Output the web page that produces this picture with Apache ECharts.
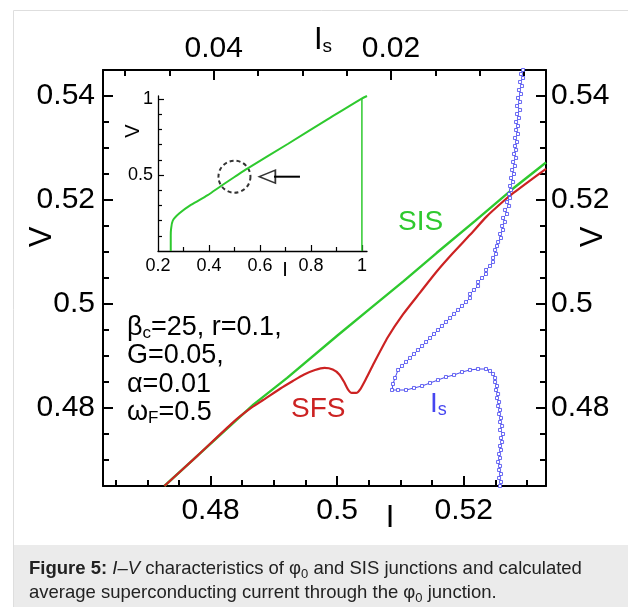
<!DOCTYPE html>
<html>
<head>
<meta charset="utf-8">
<title>I-V characteristics</title>
<script src="https://cdn.jsdelivr.net/npm/echarts@6/dist/echarts.min.js"></script>
<style>
  html, body { margin: 0; padding: 0; background: #fff; }
  #chart { width: 628px; height: 607px; }
</style>
</head>
<body>
<div id="chart"></div>
<script>
// ---- tick values ----
const majorI = [0.48, 0.5, 0.52];
const minorI = [0.465, 0.47, 0.475, 0.485, 0.49, 0.495, 0.505, 0.51, 0.515, 0.525, 0.53];
const majorIs = [0.04, 0.02];
const minorIs = [0.005, 0.01, 0.015, 0.025, 0.03, 0.035, 0.045, 0.05];
const majorV = [0.48, 0.5, 0.52, 0.54];
const minorV = [0.47, 0.475, 0.485, 0.49, 0.495, 0.505, 0.51, 0.515, 0.525, 0.53, 0.535];
const insetITicks = [0.4, 0.6, 0.8, 1];
const insetILabels = [0.2, 0.4, 0.6, 0.8, 1];
const insetIMinor = [0.3, 0.5, 0.7, 0.9];
const insetVTicks = [0.5, 1];
const insetVMinor = [0.1, 0.2, 0.3, 0.4, 0.6, 0.7, 0.8, 0.9];

// ---- curves, [I, V] ----
const sisCurve = [
  [0.4727, 0.465], [0.4779, 0.4708], [0.4868, 0.4807], [0.4921, 0.4858], [0.5, 0.4939],
  [0.5053, 0.4992], [0.5105, 0.5044], [0.5157, 0.5098], [0.5218, 0.516], [0.5278, 0.5222],
  [0.533, 0.5272]
];
const sfsCurve = [
  [0.4727, 0.465], [0.4779, 0.4708], [0.4835, 0.4772], [0.4865, 0.4801], [0.4884, 0.4816],
  [0.4911, 0.4838], [0.493, 0.4852], [0.4947, 0.4864], [0.4965, 0.4873], [0.498, 0.4877],
  [0.4993, 0.4874], [0.5003, 0.4865], [0.5011, 0.485], [0.5017, 0.4836], [0.5023, 0.4829],
  [0.503, 0.4829], [0.5037, 0.4837], [0.5046, 0.4857], [0.5058, 0.4886], [0.508, 0.4936],
  [0.5104, 0.498], [0.5131, 0.5022], [0.5157, 0.5062], [0.5183, 0.5098], [0.521, 0.5133],
  [0.5236, 0.5168], [0.5263, 0.5198], [0.5278, 0.5213], [0.5302, 0.5235], [0.533, 0.526]
];
// average superconducting current, [Is, V]
const isCurve = [
  [0.00509, 0.545], [0.00532, 0.54423], [0.00509, 0.54346], [0.00543, 0.54269], [0.00521, 0.54192],
  [0.00555, 0.54115], [0.00532, 0.54038], [0.00566, 0.53962], [0.00543, 0.53885], [0.00577, 0.53808],
  [0.00543, 0.53731], [0.00577, 0.53654], [0.00555, 0.53577], [0.00588, 0.535], [0.00566, 0.53423],
  [0.00588, 0.53346], [0.00566, 0.53269], [0.006, 0.53192], [0.00577, 0.53115], [0.006, 0.53038],
  [0.00588, 0.52962], [0.00611, 0.52885], [0.00588, 0.52808], [0.00622, 0.52731], [0.006, 0.52654],
  [0.00633, 0.52577], [0.00611, 0.525], [0.00645, 0.52423], [0.00622, 0.52346], [0.00656, 0.52269],
  [0.00645, 0.52192], [0.00667, 0.52115], [0.00656, 0.52038], [0.0069, 0.51962], [0.00667, 0.51885],
  [0.00713, 0.51808], [0.0069, 0.51731], [0.00735, 0.51654], [0.00713, 0.51577], [0.00746, 0.515],
  [0.00735, 0.51423], [0.00769, 0.51346], [0.00758, 0.51269], [0.00791, 0.51192], [0.00803, 0.51115],
  [0.00825, 0.51038], [0.00814, 0.50962], [0.00848, 0.50885], [0.00848, 0.50808], [0.00882, 0.50731],
  [0.00927, 0.50654], [0.00927, 0.50577], [0.00972, 0.505], [0.01017, 0.50423], [0.01017, 0.50346],
  [0.01063, 0.50269], [0.01108, 0.50192], [0.01108, 0.50115], [0.01153, 0.50038], [0.01198, 0.49962],
  [0.01243, 0.49885], [0.01288, 0.49808], [0.01333, 0.49731], [0.01379, 0.49654], [0.01424, 0.49577],
  [0.01469, 0.495], [0.01514, 0.49423], [0.01559, 0.49346], [0.01604, 0.49269], [0.01649, 0.49192],
  [0.01695, 0.49115], [0.0174, 0.49038], [0.01785, 0.48962], [0.0183, 0.48885], [0.01875, 0.48808],
  [0.0192, 0.48731], [0.01954, 0.48577], [0.01977, 0.48462], [0.01988, 0.48346], [0.0192, 0.48346],
  [0.0183, 0.48346], [0.0174, 0.48385], [0.01649, 0.48423], [0.01559, 0.48481], [0.01469, 0.48538],
  [0.01379, 0.48596], [0.01288, 0.48635], [0.01198, 0.48692], [0.01108, 0.48731], [0.01017, 0.4875],
  [0.00927, 0.4875], [0.00882, 0.48712], [0.00848, 0.48654], [0.00825, 0.48577], [0.00825, 0.485],
  [0.00803, 0.48423], [0.00814, 0.48346], [0.00791, 0.48269], [0.00803, 0.48192], [0.0078, 0.48115],
  [0.00791, 0.48038], [0.00769, 0.47962], [0.0078, 0.47885], [0.00758, 0.47808], [0.00769, 0.47731],
  [0.00746, 0.47654], [0.00769, 0.47577], [0.00735, 0.475], [0.00758, 0.47423], [0.00746, 0.47346],
  [0.00769, 0.47269], [0.00758, 0.47192], [0.0078, 0.47115], [0.00769, 0.47038], [0.00791, 0.46962],
  [0.00769, 0.46885], [0.0078, 0.46808], [0.00758, 0.46731], [0.0078, 0.46654], [0.00758, 0.46577],
  [0.00769, 0.465]
];
// inset: full I-V curve of the SIS junction
const insetCurve = [
  [0.25, 0], [0.25, 0.1], [0.251, 0.14], [0.258, 0.2], [0.284, 0.248], [0.329, 0.303],
  [0.395, 0.368], [0.447, 0.428], [0.5, 0.487], [0.552, 0.544], [0.709, 0.704],
  [0.865, 0.866], [0.996, 1.0], [1.02, 1.02]
];
const insetReturn = [[1.0, 1.0], [1.0, 0]];
// dashed circle at I = 0.5 and the arrow pointing to it
const insetMarker = [[0.5, 0.489]];
const arrowShaft = [[0.757, 0.489], [0.655, 0.489]];
const arrowHead = [[0.629, 0.489]];

const FONT = 'Liberation Sans';
const GREEN = '#2ec92e';
const RED = '#cc2222';
const BLUE = '#4646f0';

const chart = echarts.init(document.getElementById('chart'));

// one value axis; used both for the frame axes and for tick-only overlays
function makeAxis(gridIndex, position, min, max, ticks, labels, o) {
  return {
    type: 'value', gridIndex: gridIndex, position: position,
    min: min, max: max, inverse: !!o.inverse,
    splitLine: { show: false },
    axisLine: { show: !!o.line, onZero: false, lineStyle: { color: '#000', width: o.lineWidth || 2 } },
    axisTick: { show: true, inside: true, length: o.tickLen, customValues: ticks,
      lineStyle: { color: '#000', width: o.tickWidth || 2 } },
    axisLabel: labels ? { show: true, customValues: labels, margin: o.margin,
      fontSize: o.fontSize, color: '#000', fontFamily: FONT } : { show: false },
    silent: true
  };
}

const xAxes = [
  makeAxis(0, 'bottom', 0.463, 0.533, majorI, majorI, { line: true, tickLen: 10, margin: 10, fontSize: 30 }),
  makeAxis(0, 'bottom', 0.463, 0.533, minorI, null, { tickLen: 6 }),
  makeAxis(0, 'top', 0.0025, 0.0525, majorIs, majorIs, { line: true, inverse: true, tickLen: 10, margin: 6, fontSize: 30 }),
  makeAxis(0, 'top', 0.0025, 0.0525, minorIs, null, { inverse: true, tickLen: 6 }),
  makeAxis(1, 'bottom', 0.2, 1.02, insetITicks, insetILabels, { line: true, lineWidth: 1.3, tickWidth: 1.2, tickLen: 6, margin: 6, fontSize: 18 }),
  makeAxis(1, 'bottom', 0.2, 1.02, insetIMinor, null, { tickWidth: 1.2, tickLen: 4 })
];
const yAxes = [
  makeAxis(0, 'left', 0.465, 0.545, majorV, majorV, { line: true, tickLen: 10, margin: 8, fontSize: 30 }),
  makeAxis(0, 'left', 0.465, 0.545, minorV, null, { tickLen: 6 }),
  makeAxis(0, 'right', 0.465, 0.545, majorV, majorV, { line: true, tickLen: 10, margin: 5, fontSize: 30 }),
  makeAxis(0, 'right', 0.465, 0.545, minorV, null, { tickLen: 6 }),
  makeAxis(1, 'left', 0, 1.02, insetVTicks, insetVTicks, { line: true, lineWidth: 1.3, tickWidth: 1.2, tickLen: 6, margin: 5, fontSize: 18 }),
  makeAxis(1, 'left', 0, 1.02, insetVMinor, null, { tickWidth: 1.2, tickLen: 4 })
];

const sub = (size, lh) => ({ fontSize: size, lineHeight: lh, verticalAlign: 'bottom', fontFamily: FONT });

chart.setOption({
  animation: false,
  backgroundColor: '#fff',
  grid: [
    { left: 103, top: 70, width: 443, height: 416, outerBoundsMode: 'none' },
    { left: 158, top: 96, width: 209, height: 155, outerBoundsMode: 'none' }
  ],
  xAxis: xAxes,
  yAxis: yAxes,
  series: [
    { name: 'SIS', type: 'line', xAxisIndex: 0, yAxisIndex: 0, data: sisCurve,
      showSymbol: false, lineStyle: { color: GREEN, width: 2.4 }, silent: true, z: 3 },
    { name: 'SFS', type: 'line', xAxisIndex: 0, yAxisIndex: 0, data: sfsCurve, smooth: 0.2,
      showSymbol: false, lineStyle: { color: RED, width: 2.2 }, silent: true, z: 4 },
    { name: 'Is', type: 'line', xAxisIndex: 2, yAxisIndex: 0, data: isCurve,
      symbol: 'rect', symbolSize: 3, showSymbol: true,
      itemStyle: { color: '#fff', borderColor: BLUE, borderWidth: 0.8 },
      lineStyle: { color: BLUE, width: 1 }, silent: true, z: 5 },
    { name: 'inset', type: 'line', xAxisIndex: 4, yAxisIndex: 4, data: insetCurve, smooth: 0.3,
      showSymbol: false, lineStyle: { color: GREEN, width: 2 }, silent: true },
    { name: 'inset return', type: 'line', xAxisIndex: 4, yAxisIndex: 4, data: insetReturn,
      showSymbol: false, lineStyle: { color: GREEN, width: 1.5 }, silent: true },
    { name: 'circle', type: 'scatter', xAxisIndex: 4, yAxisIndex: 4, data: insetMarker,
      symbol: 'circle', symbolSize: 32, silent: true,
      itemStyle: { color: 'rgba(0,0,0,0)', borderColor: '#000', borderWidth: 2, borderType: [4, 3] } },
    { name: 'arrow', type: 'line', xAxisIndex: 4, yAxisIndex: 4, data: arrowShaft,
      showSymbol: false, lineStyle: { color: '#000', width: 2 }, silent: true },
    { name: 'arrow head', type: 'scatter', xAxisIndex: 4, yAxisIndex: 4, data: arrowHead,
      symbol: 'triangle', symbolRotate: 90, symbolSize: [13, 16], silent: true,
      itemStyle: { color: '#fff', borderColor: '#000', borderWidth: 1.6 } }
  ],
  graphic: [
    // page frame and caption box
    { type: 'rect', z: -10, silent: true, shape: { x: 13.5, y: 10.5, width: 700, height: 700 },
      style: { fill: '#fff', stroke: '#dedede', lineWidth: 1 } },
    { type: 'rect', z: -9, silent: true, shape: { x: 14, y: 545, width: 700, height: 80 },
      style: { fill: '#ebebeb' } },
    { type: 'text', x: 29, y: 557, silent: true,
      style: {
        text: '{b|Figure 5:} {i|I–V} characteristics of φ{s|0} and SIS junctions and calculated\naverage superconducting current through the φ{s|0} junction.',
        fontSize: 18.5, lineHeight: 24, fontFamily: FONT, fill: '#222',
        rich: {
          b: { fontSize: 18.5, lineHeight: 24, fontWeight: 'bold', fontFamily: FONT },
          i: { fontSize: 18.5, lineHeight: 24, fontStyle: 'italic', fontFamily: FONT },
          s: sub(13, 10)
        }
      } },
    // axis titles
    { type: 'text', x: 42, y: 237, rotation: Math.PI / 2, silent: true,
      style: { text: 'V', fontSize: 31, fontFamily: FONT, fill: '#000', align: 'center', verticalAlign: 'middle' } },
    { type: 'text', x: 593, y: 237, rotation: Math.PI / 2, silent: true,
      style: { text: 'V', fontSize: 31, fontFamily: FONT, fill: '#000', align: 'center', verticalAlign: 'middle' } },
    { type: 'text', x: 390, y: 518, silent: true,
      style: { text: 'I', fontSize: 31, fontFamily: FONT, fill: '#000', align: 'center', verticalAlign: 'middle' } },
    { type: 'text', x: 314, y: 24, silent: true,
      style: { text: '{m|I}{s|s}', fontFamily: FONT, fill: '#000',
        rich: { m: { fontSize: 31, lineHeight: 32, fontFamily: FONT }, s: sub(19, 12) } } },
    { type: 'text', x: 133, y: 131, rotation: Math.PI / 2, silent: true,
      style: { text: 'V', fontSize: 20, fontFamily: FONT, fill: '#000', align: 'center', verticalAlign: 'middle' } },
    { type: 'text', x: 285, y: 270, silent: true,
      style: { text: 'I', fontSize: 20, fontFamily: FONT, fill: '#000', align: 'center', verticalAlign: 'middle' } },
    // curve labels
    { type: 'text', x: 398, y: 208, silent: true,
      style: { text: 'SIS', fontSize: 28, fontFamily: FONT, fill: GREEN } },
    { type: 'text', x: 291, y: 395, silent: true,
      style: { text: 'SFS', fontSize: 28, fontFamily: FONT, fill: RED } },
    { type: 'text', x: 430, y: 390, silent: true,
      style: { text: '{m|I}{s|s}', fontFamily: FONT, fill: BLUE,
        rich: { m: { fontSize: 28, lineHeight: 29, fontFamily: FONT }, s: sub(18, 10) } } },
    // parameters
    { type: 'text', x: 127, y: 313, silent: true,
      style: {
        text: '{m|β}{s|c}{m|=25, r=0.1,}\n{m|G=0.05,}\n{m|α=0.01}\n{m|ω}{s|F}{m|=0.5}',
        fontFamily: FONT, fill: '#000',
        rich: { m: { fontSize: 27, lineHeight: 28.5, fontFamily: FONT }, s: sub(17, 8) }
      } }
  ]
});
</script>
</body>
</html>
